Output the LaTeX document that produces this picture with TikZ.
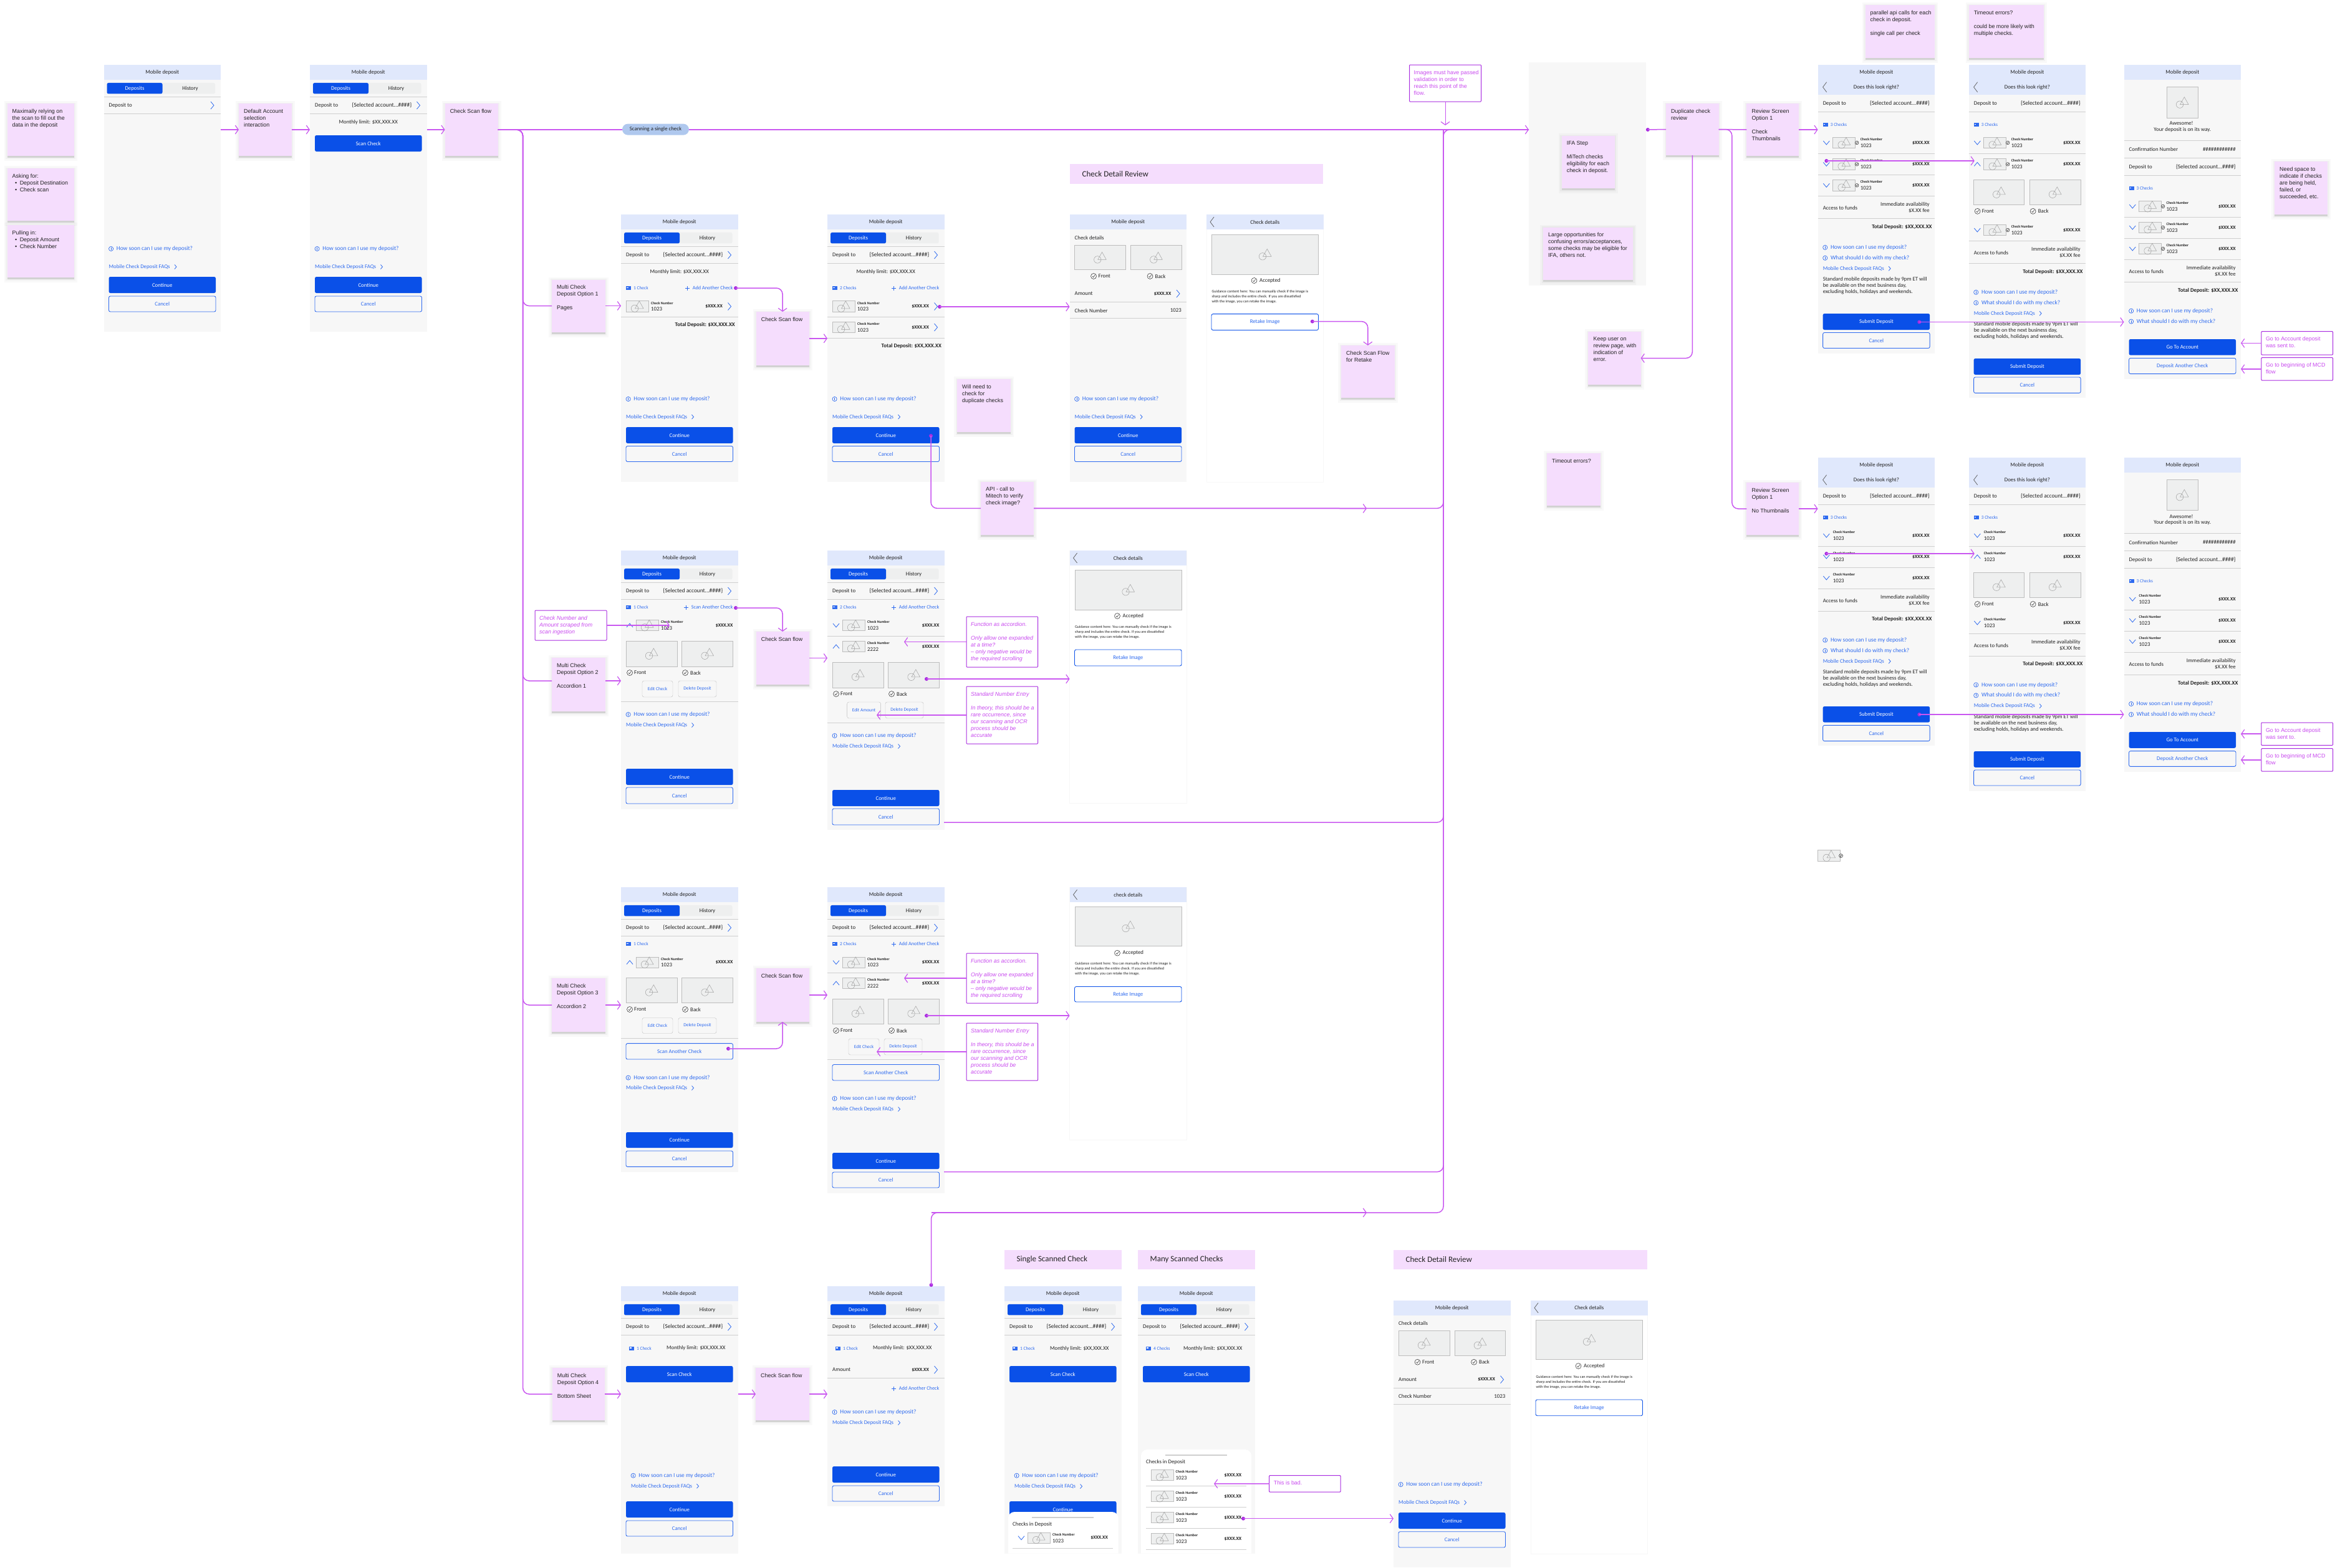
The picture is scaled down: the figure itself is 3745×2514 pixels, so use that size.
\documentclass[tikz,border=0pt]{standalone}
\usepackage{fontspec}
\usetikzlibrary{arrows.meta}
\setmainfont{Liberation Sans}
\newfontfamily\uif{Carlito}
\definecolor{pri}{HTML}{0A50E8}
\definecolor{lnk}{HTML}{2F6BEF}
\definecolor{hdr}{HTML}{E0E8FC}
\definecolor{scr}{HTML}{F7F7F7}
\definecolor{stk}{HTML}{F5DDFD}
\definecolor{stkshadow}{HTML}{D2D2D2}
\definecolor{mg}{HTML}{C957F0}
\definecolor{mgd}{HTML}{A92CE0}
\definecolor{ntx}{HTML}{C94BEF}
\definecolor{rule}{HTML}{CFCFCF}
\definecolor{imgf}{HTML}{EEEFEF}
\definecolor{imgl}{HTML}{BDBDBD}
\definecolor{iconc}{HTML}{A0A0A0}
\definecolor{ink}{HTML}{222222}
\definecolor{pillc}{HTML}{AFC8EE}
\newcommand\fui{\uif\fontsize{8.8}{10.5}\selectfont}
\newcommand\flk{\uif\fontsize{9.4}{11}\selectfont}
\newcommand\fsm{\uif\fontsize{7.4}{9}\selectfont}
\newcommand\fad{\uif\fontsize{8.2}{10}\selectfont}
\newcommand\ftiny{\uif\bfseries\fontsize{5.8}{7}\selectfont}
\newcommand\fg{\uif\fontsize{6.1}{8}\selectfont}
\newcommand\fst{\fontsize{8.9}{11}\selectfont}
\tikzset{
 x=1pt,y=-1pt,
 tl/.style={anchor=west,inner sep=0pt,font=\fui,text=ink},
 tr/.style={anchor=east,inner sep=0pt,font=\fui,text=ink},
 tc/.style={inner sep=0pt,font=\fui,text=ink},
 trb/.style={anchor=east,inner sep=0pt,font=\fui\bfseries,text=ink},
 bl/.style={anchor=west,inner sep=0pt,font=\fui,text=lnk},
 blk/.style={anchor=west,inner sep=0pt,font=\flk,text=lnk},
 blsm/.style={anchor=west,inner sep=0pt,font=\fsm,text=lnk},
 brsm/.style={anchor=east,inner sep=0pt,font=\fad,text=lnk},
 cnsm/.style={anchor=west,inner sep=0pt,font=\ftiny,text=ink},
 acct/.style={anchor=east,inner sep=0pt,font=\uif\fontsize{9.3}{11}\selectfont,text=ink},
 amt/.style={anchor=east,inner sep=0pt,font=\uif\bfseries\fontsize{7.8}{9}\selectfont,text=ink},
 gd/.style={anchor=west,inner sep=0pt,font=\fg,text=ink},
 bgbox/.style={inner sep=0pt,outer sep=0pt,fill=scr},
 whitebox/.style={inner sep=0pt,outer sep=0pt,fill=white,draw=black!3,line width=.4pt},
 pbtn/.style={inner sep=0pt,fill=pri,rounded corners=2.5pt,font=\fui,text=white},
 sbtn/.style={inner sep=0pt,fill=scr,draw=lnk,line width=.9pt,rounded corners=2.5pt,font=\fui,text=lnk},
 wbtn/.style={inner sep=0pt,fill=white,draw=pri,line width=.9pt,rounded corners=2.5pt,font=\fui,text=lnk},
 minibtn/.style={inner sep=0pt,fill=scr,draw=imgl,line width=.4pt,rounded corners=3pt,font=\fsm,text=lnk},
 tabon/.style={inner sep=0pt,fill=pri,rounded corners=2.5pt,font=\fui,text=white},
 taboff/.style={inner sep=0pt,fill=imgf,rounded corners=2.5pt,font=\fui,text=ink},
 stickybox/.style={inner sep=0pt,outer sep=0pt,fill=stk},
 stickytext/.style={anchor=north west,align=left,inner sep=0pt,font=\fst,text=ink},
 notebox/.style={inner sep=0pt,outer sep=0pt,fill=white,draw=mgd,line width=1pt,rounded corners=1pt},
 notetext/.style={anchor=north west,align=left,inner sep=0pt,font=\fst,text=ntx},
 bannerbox/.style={inner sep=0pt,outer sep=0pt,fill=stk},
 bannertext/.style={anchor=west,inner sep=0pt,font=\uif\fontsize{13}{15}\selectfont,text=ink},
 dotn/.style={circle,fill=mgd,inner sep=0pt,minimum size=6pt},
 conn/.style={draw=mg,line width=1.5pt,rounded corners=10pt},
 connthin/.style={draw=mg,line width=.9pt,rounded corners=10pt},
 arr/.style={-{Straight Barb[length=5pt,width=14pt,line width=1.2pt]}},
 rl/.style={draw=rule,line width=.9pt},
 chev/.style={draw=lnk,line width=.8pt},
 iconl/.style={draw=iconc,line width=.5pt},
}
\newcount\nc
\newcommand\T[4]{\global\advance\nc 1 \node[#1] (n\the\nc) at (#2,#3) {#4};}
\newcommand\Rl[1]{\draw[rl] (0,#1) -- (187.5,#1);}
\newcommand\ChR[2]{\draw[chev] ({#1-2.5},{#2-6}) -- ({#1+2.5},#2) -- ({#1-2.5},{#2+6});}
\newcommand\ChRs[2]{\draw[chev] ({#1-1.5},{#2-3.5}) -- ({#1+1.5},#2) -- ({#1-1.5},{#2+3.5});}
\newcommand\ChD[2]{\draw[chev] ({#1-5},{#2-3}) -- (#1,{#2+3}) -- ({#1+5},{#2-3});}
\newcommand\ChU[2]{\draw[chev] ({#1-5},{#2+3}) -- (#1,{#2-3}) -- ({#1+5},{#2+3});}
\newcommand\Back[2]{\draw[draw=black!65,line width=.7pt] ({#1+3},{#2-8}) -- ({#1-3},#2) -- ({#1+3},{#2+8});}
\newcommand\Icon[2]{\draw[iconl] ({#1-4},{#2+3.3}) circle (5.7);\draw[iconl] ({#1+3.3},{#2-8.7}) -- ({#1+10},{#2+3.3}) -- ({#1-3.5},{#2+3.3}) -- cycle;}
\newcommand\ImgBox[4]{\fill[imgf] (#1,#2) rectangle (#3,#4);\draw[imgl,line width=.8pt] (#1,#2) rectangle (#3,#4);\pgfmathsetmacro\icx{(#1+#3)/2}\pgfmathsetmacro\icy{(#2+#4)/2}\Icon{\icx}{\icy}}
\newcommand\ThumbAt[2]{\ImgBox{#1}{#2-8.7}{#1+36}{#2+8.7}}
\newcommand\Tick[3]{\draw[draw=ink,line width=.5pt] (#1,#2) circle (#3);\draw[draw=ink,line width=.5pt] ({#1-.45*#3},#2) -- ({#1-.1*#3},{#2+.4*#3}) -- ({#1+.5*#3},{#2-.5*#3});}
\newcommand\Info[2]{\draw[draw=lnk,line width=.7pt] (#1,#2) circle (3.6);\draw[draw=lnk,line width=.8pt] (#1,{#2-2}) -- (#1,{#2+2});}
\newcommand\Card[2]{\fill[lnk] (#1,{#2-3}) rectangle ({#1+8},{#2+3});\fill[white] ({#1+1},{#2-1.5}) rectangle ({#1+3.5},{#2});}
\newcommand\Bg[3]{\pgfmathsetmacro\myh{#3-#2}\pgfmathsetmacro\myc{(#3+#2)/2}\node[bgbox,minimum width=187.5pt,minimum height=\myh pt] (#1) at (93.75,\myc) {};}
\newcommand\BgW[3]{\pgfmathsetmacro\myh{#3-#2}\pgfmathsetmacro\myc{(#3+#2)/2}\node[whitebox,minimum width=187.5pt,minimum height=\myh pt] (#1) at (93.75,\myc) {};}
\newcommand\Head[2]{\fill[hdr] (0,#1) rectangle (187.5,{#1+24});\T{tc}{93.75}{#1+12}{#2}}
\newcommand\HeadBk[2]{\Head{#1}{#2}\Back{9}{#1+12}}
\newcommand\HeadTwo[1]{\fill[hdr] (0,#1) rectangle (187.5,{#1+47.5});\T{tc}{93.75}{#1+12}{Mobile deposit}\T{tc}{93.75}{#1+35.7}{Does this look right?}\Back{11}{#1+35.7}}
\newcommand\Tabs[1]{%
 \global\advance\nc 1 \node[taboff,minimum width=174pt,minimum height=17.5pt] (n\the\nc) at (91.5,{#1+37.7}) {};
 \T{tabon,minimum width=89pt,minimum height=17.5pt}{49.5}{#1+37.7}{Deposits}
 \T{tc}{138.5}{#1+37.7}{History}
 \Rl{#1+51}\T{tl}{8}{#1+65}{Deposit to}\Rl{#1+78}}
\newcommand\TabsA[1]{\Tabs{#1}\T{acct}{163.4}{#1+65}{\{Selected account...\#\#\#\#\}}\ChR{174}{#1+65}}
\newcommand\Btn[5]{\pgfmathsetmacro\myh{#3-#2}\pgfmathsetmacro\myc{(#3+#2)/2}\pgfmathsetmacro\myw{171.5}\global\advance\nc 1 \node[#1,minimum width=\myw pt,minimum height=\myh pt] (#4) at (93.75,\myc) {#5};}
\newcommand\PB[3]{\global\advance\nc 1 \Btn{pbtn}{#1}{#2}{n\the\nc}{#3}}
\newcommand\SB[3]{\global\advance\nc 1 \Btn{sbtn}{#1}{#2}{n\the\nc}{#3}}
\newcommand\WB[3]{\global\advance\nc 1 \Btn{wbtn}{#1}{#2}{n\the\nc}{#3}}
\newcommand\Mini[5]{\pgfmathsetmacro\myh{#4-#3}\pgfmathsetmacro\myw{#2-#1}\pgfmathsetmacro\myc{(#4+#3)/2}\pgfmathsetmacro\myx{(#1+#2)/2}\T{minibtn,minimum width=\myw pt,minimum height=\myh pt}{\myx}{\myc}{#5}}
\newcommand\Btns[4]{\PB{#1}{#2}{Continue}\SB{#3}{#4}{Cancel}}
\newcommand\How[3][8]{\Info{#1+3.6}{#2}\T{blk}{#1+12.2}{#2}{#3}}
\newcommand\HowSoon[2][8]{\How[#1]{#2}{How soon can I use my deposit?}}
\newcommand\FAQ[2][8]{\T{bl}{#1}{#2}{Mobile Check Deposit FAQs}\ChRs{#1+107}{#2}}
\newcommand\Checks[3][8]{\Card{#1}{#2}\T{blsm}{#1+12}{#2}{#3}}
\newcommand\AddC[2]{\T{brsm}{179.5}{#1}{#2}\draw[draw=lnk,line width=.8pt] ([xshift=-8pt,yshift=-3.5pt]n\the\nc.west) -- ([xshift=-8pt,yshift=3.5pt]n\the\nc.west) ([xshift=-11.5pt]n\the\nc.west) -- ([xshift=-4.5pt]n\the\nc.west);}
\newcommand\CN[4]{\T{cnsm}{#1}{#2-5.5}{Check Number}\T{tl}{#1}{#2+4.5}{#4}\T{amt}{#3}{#2}{\$XXX.XX}}
\newcommand\RowC[1]{\ThumbAt{8}{#1}\CN{48}{#1}{163}{1023}\ChR{174}{#1}}
\newcommand\RowDd[2]{\ChD{14}{#1}\ThumbAt{24}{#1}\CN{64}{#1}{179.5}{#2}}
\newcommand\RowDu[2]{\ChU{14}{#1}\ThumbAt{24}{#1}\CN{64}{#1}{179.5}{#2}}
\newcommand\RowJd[1]{\ChD{13.7}{#1}\ThumbAt{24}{#1}\Tick{62.5}{#1}{2.8}\CN{68}{#1}{179.3}{1023}}
\newcommand\RowJu[1]{\ChU{13.7}{#1}\ThumbAt{24}{#1}\Tick{62.5}{#1}{2.8}\CN{68}{#1}{179.3}{1023}}
\newcommand\RowKd[1]{\ChD{13.7}{#1}\CN{24}{#1}{179.3}{1023}}
\newcommand\RowKu[1]{\ChU{13.7}{#1}\CN{24}{#1}{179.3}{1023}}
\newcommand\FB[1]{\Tick{14}{#1}{4.5}\T{tl}{21}{#1}{Front}\Tick{103}{#1}{4.5}\T{tl}{111}{#1}{Back}}
\newcommand\TwoImg[2]{\ImgBox{8}{#1}{90}{#2}\ImgBox{97.5}{#1}{179.5}{#2}}
\newcommand\Accepted[1]{\Tick{76.5}{#1}{4.5}\T{tl}{85}{#1}{Accepted}}
\newcommand\Guide[3]{\T{gd}{8.4}{#1}{Guidance content here: You can manually check if the image is}\T{gd}{8.4}{#2}{sharp and includes the entire check. If you are dissatisfied}\T{gd}{8.4}{#3}{with the image, you can retake the image.}}
\newcommand\Access[3]{\T{tl}{8}{#1}{Access to funds}\T{tr}{179.3}{#2}{Immediate availability}\T{tr}{179.3}{#3}{\$X.XX fee}}
\newcommand\Std[3]{\T{tl}{8}{#1}{Standard mobile deposits made by 9pm ET will}\T{tl}{8}{#2}{be available on the next business day,}\T{tl}{8}{#3}{excluding holds, holidays and weekends.}}
\newcommand\Total[2][183]{\T{trb}{#1}{#2}{Total Deposit: \$XX,XXX.XX}}
\newcommand\Monthly[1]{\T{tc}{93.75}{#1}{Monthly limit: \$XX,XXX.XX}}
\newcommand\MonthlyL[1]{\T{tl}{73}{#1}{Monthly limit: \$XX,XXX.XX}}
\newcommand\Sticky[6]{\pgfmathsetmacro\myw{#4-#2}\pgfmathsetmacro\myh{#5-#3}\pgfmathsetmacro\myx{(#2+#4)/2}\pgfmathsetmacro\myc{(#3+#5)/2}%
 \fill[black,opacity=.025] ({#2-5},{#3-4}) rectangle ({#4+5},{#5+8});
 \fill[black,opacity=.03] ({#2-2.5},{#3-1.5}) rectangle ({#4+2.5},{#5+5});
 \fill[stkshadow] (#2,{#5-1}) rectangle (#4,{#5+3});
 \node[stickybox,minimum width=\myw pt,minimum height=\myh pt] (#1) at (\myx,\myc) {};
 \node[stickytext] (#1-t) at ({#2+8},{#3+8.5}) {#6};}
\newcommand\Note[7][]{\pgfmathsetmacro\myw{#5-#3}\pgfmathsetmacro\myh{#6-#4}\pgfmathsetmacro\myx{(#3+#5)/2}\pgfmathsetmacro\myc{(#4+#6)/2}%
 \node[notebox,minimum width=\myw pt,minimum height=\myh pt] (#2) at (\myx,\myc) {};
 \node[notetext,#1] (#2-t) at ({#3+7},{#4+8.5}) {#7};}
\newcommand\Banner[6]{\pgfmathsetmacro\myw{#4-#2}\pgfmathsetmacro\myh{#5-#3}\pgfmathsetmacro\myx{(#2+#4)/2}\pgfmathsetmacro\myc{(#3+#5)/2}%
 \node[bannerbox,minimum width=\myw pt,minimum height=\myh pt] (#1) at (\myx,\myc) {};
 \node[bannertext] (#1-t) at ({#2+19.5},\myc) {#6};}
\newcommand\Dt[3]{\node[dotn] (#1) at (#2,#3) {};}
\begin{document}
\begin{tikzpicture}
\fill[white] (0,0) rectangle (3745,2514);
\useasboundingbox (0,0) rectangle (3745,2514);

% ---- first row
\begin{scope}[shift={(166.5,0)}]
\Bg{A}{104}{531.6}\Head{104}{Mobile deposit}\Tabs{104}\ChR{174}{169}
\HowSoon{399}\FAQ{428}\Btns{444}{470}{475}{500}
\end{scope}
\begin{scope}[shift={(497,0)}]
\Bg{B}{104}{531.6}\Head{104}{Mobile deposit}\TabsA{104}\Monthly{196}
\PB{217}{243}{Scan Check}\HowSoon{399}\FAQ{428}\Btns{444}{470}{475}{500}
\end{scope}

% ---- option 1
\begin{scope}[shift={(996,0)}]
\Bg{C1}{344}{772.7}\Head{344}{Mobile deposit}\TabsA{344}\Monthly{436.5}
\Checks{462}{1 Check}\AddC{462}{Add Another Check}\RowC{491.5}\Rl{508.5}\Total{521}
\HowSoon{640}\FAQ{668.7}\Btns{685}{711}{715.5}{740.5}
\end{scope}
\begin{scope}[shift={(1327,0)}]
\Bg{C2}{344}{772.7}\Head{344}{Mobile deposit}\TabsA{344}\Monthly{436.5}
\Checks{462}{2 Checks}\AddC{462}{Add Another Check}\RowC{491.5}\Rl{508.5}\RowC{525}\Rl{542}\Total{555}
\HowSoon{640}\FAQ{668.7}\Btns{685}{711}{715.5}{740.5}
\end{scope}
\begin{scope}[shift={(1715.5,0)}]
\Bg{C3}{344}{772.7}\Head{344}{Mobile deposit}\T{tl}{8}{381}{Check details}
\ImgBox{8}{393.7}{89.5}{432.5}\ImgBox{98}{393.7}{179.5}{432.5}
\Tick{38.5}{443}{4.5}\T{tl}{46}{443}{Front}\Tick{129}{443}{4.5}\T{tl}{137}{443}{Back}
\T{tl}{8}{471}{Amount}\T{amt}{163}{471}{\$XXX.XX}\ChR{174}{471}\Rl{484}
\T{tl}{8}{498}{Check Number}\T{tr}{179.5}{498}{1023}\Rl{510.6}
\HowSoon{640}\FAQ{668.7}\Btns{685}{711}{715.5}{740.5}
\end{scope}
\begin{scope}[shift={(1935,0)}]
\BgW{C4}{344}{772.7}\HeadBk{344}{Check details}\ImgBox{8.4}{376}{179.6}{440}\Accepted{450}
\Guide{467.4}{475.4}{483.5}\WB{503.6}{529.5}{Retake Image}
\end{scope}

% ---- option 2
\begin{scope}[shift={(996,0)}]
\Bg{D1}{883}{1297.7}\Head{883}{Mobile deposit}\TabsA{883}
\Checks{974}{1 Check}\AddC{974}{Scan Another Check}\RowDu{1003}{1023}
\TwoImg{1028}{1069}\FB{1079}\Mini{34}{83}{1092}{1118}{Edit Check}\Mini{92}{153}{1092}{1118}{Delete Deposit}\Rl{1125}
\HowSoon{1146}\FAQ{1163}\Btns{1233}{1259}{1263}{1289}
\end{scope}
\begin{scope}[shift={(1327,0)}]
\Bg{D2}{883}{1331}\Head{883}{Mobile deposit}\TabsA{883}
\Checks{974}{2 Checks}\AddC{974}{Add Another Check}\RowDd{1003}{1023}\Rl{1020}\RowDu{1037}{2222}
\TwoImg{1062}{1103}\FB{1113}\Mini{31.6}{85.6}{1126}{1152}{Edit Amount}\Mini{93}{154}{1126}{1152}{Delete Deposit}\Rl{1159}
\HowSoon{1180}\FAQ{1197}\Btns{1267}{1293}{1297}{1323}
\end{scope}
\begin{scope}[shift={(1715.5,0)}]
\BgW{D3}{883}{1288}\HeadBk{883}{Check details}\ImgBox{8.4}{914}{179.6}{978}\Accepted{988}
\Guide{1006}{1014}{1022}\WB{1042}{1068}{Retake Image}
\end{scope}

% ---- option 3
\begin{scope}[shift={(996,0)}]
\Bg{F1}{1423}{1879.5}\Head{1423}{Mobile deposit}\TabsA{1423}
\Checks{1514}{1 Check}\RowDu{1543.6}{1023}
\TwoImg{1568}{1608.6}\FB{1619}\Mini{34}{83}{1632.5}{1657.5}{Edit Check}\Mini{92}{153}{1632.5}{1657.5}{Delete Deposit}\Rl{1665}
\SB{1673.6}{1699}{Scan Another Check}\HowSoon{1728.6}\FAQ{1745}\Btns{1816}{1841}{1846}{1871.4}
\end{scope}
\begin{scope}[shift={(1327,0)}]
\Bg{F2}{1423}{1913.5}\Head{1423}{Mobile deposit}\TabsA{1423}
\Checks{1514}{2 Checks}\AddC{1514}{Add Another Check}\RowDd{1543.6}{1023}\Rl{1560}\RowDu{1577}{2222}
\TwoImg{1602.5}{1642.5}\FB{1653}\Mini{34}{83}{1666}{1692}{Edit Check}\Mini{91}{152}{1666}{1692}{Delete Deposit}\Rl{1699}
\SB{1707.5}{1733}{Scan Another Check}\HowSoon{1762}\FAQ{1779}\Btns{1849}{1875}{1880}{1905}
\end{scope}
\begin{scope}[shift={(1715.5,0)}]
\BgW{F3}{1423}{1828}\HeadBk{1423}{check details}\ImgBox{8.4}{1454}{179.6}{1517.5}\Accepted{1528.6}
\Guide{1546}{1554}{1562}\WB{1582.5}{1607}{Retake Image}
\end{scope}

% ---- option 4
\begin{scope}[shift={(996,0)}]
\Bg{G1}{2063}{2491.6}\Head{2063}{Mobile deposit}\TabsA{2063}
\Checks[13]{2162.6}{1 Check}\MonthlyL{2162.6}\PB{2191}{2217}{Scan Check}
\HowSoon[16]{2366.7}\FAQ[16]{2383.7}\Btns{2408}{2434}{2439}{2464}
\end{scope}
\begin{scope}[shift={(1327,0)}]
\Bg{G2}{2063}{2416}\Head{2063}{Mobile deposit}\TabsA{2063}
\Checks[13]{2162.6}{1 Check}\MonthlyL{2162.6}
\T{tl}{8}{2197}{Amount}\T{amt}{163}{2197}{\$XXX.XX}\ChR{174}{2197}\Rl{2210.5}
\AddC{2227}{Add Another Check}\HowSoon{2265}\FAQ{2282}\Btns{2352}{2378}{2383}{2408}
\end{scope}
\begin{scope}[shift={(1611,0)}]
\Bg{H1}{2063}{2491.7}\Head{2063}{Mobile deposit}\TabsA{2063}
\Checks[13]{2162.7}{1 Check}\MonthlyL{2162.7}\PB{2191}{2217}{Scan Check}
\HowSoon[16]{2366.7}\FAQ[16]{2384}\PB{2408}{2434}{Continue}
\fill[white] (6,2491.7) {[rounded corners=10pt] -- (6,2425) -- (182.6,2425)} -- (182.6,2491.7) -- cycle;
\fill[rule] (44,2432.5) rectangle (143,2435);
\T{tl}{13}{2445}{Checks in Deposit}
\ChD{27}{2466.7}\ThumbAt{37}{2466.7}\CN{77}{2466.7}{166}{1023}
\draw[rl] (13,2483) -- (174,2483);
\end{scope}
\begin{scope}[shift={(1825,0)}]
\Bg{H2}{2063}{2491.7}\Head{2063}{Mobile deposit}\TabsA{2063}
\Checks[13]{2162.7}{4 Checks}\MonthlyL{2162.7}\PB{2191}{2217}{Scan Check}
\fill[white] (5,2491.7) {[rounded corners=10pt] -- (5,2325) -- (182,2325)} -- (182,2491.7) -- cycle;
\fill[rule] (44,2332.5) rectangle (142.6,2335);
\T{tl}{13}{2345}{Checks in Deposit}
\ThumbAt{21}{2366}\CN{60.5}{2366}{166.4}{1023}\draw[rl] (13,2383) -- (174,2383);
\ThumbAt{21}{2400}\CN{60.5}{2400}{166.4}{1023}\draw[rl] (13,2417) -- (174,2417);
\ThumbAt{21}{2434}\CN{60.5}{2434}{166.4}{1023}\draw[rl] (13,2451) -- (174,2451);
\ThumbAt{21}{2468}\CN{60.5}{2468}{166.4}{1023}\draw[rl] (13,2485) -- (174,2485);
\end{scope}
\begin{scope}[shift={(2235,0)}]
\Bg{I1}{2085.7}{2513.7}\Head{2085.7}{Mobile deposit}\T{tl}{8}{2122.7}{Check details}
\ImgBox{8}{2134.3}{90}{2174.7}\ImgBox{98}{2134.3}{179.7}{2174.7}
\Tick{38.5}{2184.7}{4.5}\T{tl}{46}{2184.7}{Front}\Tick{129}{2184.7}{4.5}\T{tl}{137}{2184.7}{Back}
\T{tl}{8}{2212.7}{Amount}\T{amt}{163}{2212.7}{\$XXX.XX}\ChR{174}{2212.7}\Rl{2226}
\T{tl}{8}{2239.7}{Check Number}\T{tr}{179.5}{2239.7}{1023}\Rl{2252}
\HowSoon{2381}\FAQ{2410}\Btns{2426}{2452}{2456.7}{2482}
\end{scope}
\begin{scope}[shift={(2455,0)}]
\BgW{I2}{2085.7}{2491.7}\HeadBk{2085.7}{Check details}\ImgBox{8.4}{2117}{179.6}{2180.7}\Accepted{2191}
\Guide{2209}{2217}{2225}\WB{2245}{2270.7}{Retake Image}
\end{scope}

% ---- IFA column
\begin{scope}[shift={(2452,0)}]
\Bg{IFA}{100}{457.6}
\end{scope}

% ---- review screens with thumbnails
\begin{scope}[shift={(2915.6,0)}]
\Bg{J1}{104}{566.5}\HeadTwo{104}\T{tl}{8}{166}{Deposit to}\T{acct}{179.3}{166}{\{Selected account...\#\#\#\#\}}\Rl{179.5}
\Checks{200.4}{3 Checks}\RowJd{229}\Rl{246.4}\RowJd{263.4}\Rl{280.4}\RowJd{297.3}\Rl{314.3}
\Access{333.5}{328}{338}\Rl{350.4}\Total{363.8}
\HowSoon{396.9}\How{413.8}{What should I do with my check?}\FAQ{430.8}\Std{448}{458.5}{468.3}
\PB{503}{529}{Submit Deposit}\SB{533.5}{558.5}{Cancel}
\end{scope}
\begin{scope}[shift={(3157.6,0)}]
\Bg{J2}{104}{638.4}\HeadTwo{104}\T{tl}{8}{166}{Deposit to}\T{acct}{179.3}{166}{\{Selected account...\#\#\#\#\}}\Rl{179.5}
\Checks{200.4}{3 Checks}\RowJd{229}\Rl{246.4}\RowJu{263.4}
\ImgBox{8}{288.4}{89}{328.6}\ImgBox{97.5}{288.4}{179.3}{328.6}\Tick{14}{338.8}{4.5}\T{tl}{21}{338.8}{Front}\Tick{103}{338.8}{4.5}\T{tl}{111}{338.8}{Back}
\RowJd{369}\Rl{386.6}\Access{405}{400}{410}\Rl{422.3}\Total{435.7}
\HowSoon{468.8}\How{485.7}{What should I do with my check?}\FAQ{502.7}\Std{520}{530.4}{540}
\PB{575}{601}{Submit Deposit}\SB{605}{630.4}{Cancel}
\end{scope}
\begin{scope}[shift={(3406.5,0)}]
\Bg{J3}{104}{607.6}\Head{104}{Mobile deposit}\ImgBox{68.5}{139}{118.5}{189.7}
\T{tc}{92}{198}{Awesome!}\T{tc}{93.75}{208.5}{Your deposit is on its way.}\Rl{225.4}
\T{tl}{8}{239.7}{Confirmation Number}\T{tr}{179.3}{239.7}{\#\#\#\#\#\#\#\#\#\#\#\#}\Rl{253.6}
\T{tl}{8}{267.9}{Deposit to}\T{acct}{179.3}{267.9}{\{Selected account...\#\#\#\#\}}\Rl{281.7}
\Checks{302}{3 Checks}\RowJd{331}\Rl{348.6}\RowJd{365}\Rl{382.6}\RowJd{399}\Rl{416.5}
\Access{435}{430}{440}\Rl{452}\Total{465.6}
\HowSoon{498.7}\How{515.6}{What should I do with my check?}
\PB{544}{569.6}{Go To Account}\SB{574.5}{599.6}{Deposit Another Check}
\end{scope}

% ---- review screens without thumbnails
\begin{scope}[shift={(2915.6,0)}]
\Bg{K1}{734}{1196.4}\HeadTwo{734}\T{tl}{8}{796}{Deposit to}\T{acct}{179.3}{796}{\{Selected account...\#\#\#\#\}}\Rl{809.6}
\Checks{830}{3 Checks}\RowKd{859}\Rl{876.5}\RowKd{893}\Rl{910.4}\RowKd{927}\Rl{944.3}
\Access{963}{958}{968}\Rl{980.7}\Total{993}
\HowSoon{1026.7}\How{1043.7}{What should I do with my check?}\FAQ{1060.7}\Std{1078.6}{1088.3}{1098.5}
\PB{1133}{1158.6}{Submit Deposit}\SB{1163.4}{1188.6}{Cancel}
\end{scope}
\begin{scope}[shift={(3157.6,0)}]
\Bg{K2}{734}{1268.6}\HeadTwo{734}\T{tl}{8}{796}{Deposit to}\T{acct}{179.3}{796}{\{Selected account...\#\#\#\#\}}\Rl{809.6}
\Checks{830}{3 Checks}\RowKd{859}\Rl{876.5}\RowKu{893}
\ImgBox{8}{918.6}{89}{958.4}\ImgBox{97.5}{918.6}{179.3}{958.4}\Tick{14}{969}{4.5}\T{tl}{21}{969}{Front}\Tick{103}{969}{4.5}\T{tl}{111}{969}{Back}
\RowKd{999}\Rl{1016.5}\Access{1035}{1030}{1040}\Rl{1052.4}\Total{1065.5}
\HowSoon{1098.5}\How{1115.4}{What should I do with my check?}\FAQ{1132.4}\Std{1150.3}{1160}{1170}
\PB{1205}{1230.8}{Submit Deposit}\SB{1235}{1260}{Cancel}
\end{scope}
\begin{scope}[shift={(3406.5,0)}]
\Bg{K3}{734}{1237.6}\Head{734}{Mobile deposit}\ImgBox{68.5}{769}{118.5}{818.8}
\T{tc}{92}{828.5}{Awesome!}\T{tc}{93.75}{838.6}{Your deposit is on its way.}\Rl{855.6}
\T{tl}{8}{870}{Confirmation Number}\T{tr}{179.3}{870}{\#\#\#\#\#\#\#\#\#\#\#\#}\Rl{883.7}
\T{tl}{8}{897.8}{Deposit to}\T{acct}{179.3}{897.8}{\{Selected account...\#\#\#\#\}}\Rl{911.4}
\Checks{932}{3 Checks}\RowKd{961}\Rl{978.7}\RowKd{995}\Rl{1012.7}\RowKd{1029}\Rl{1046.6}
\Access{1065}{1060}{1070}\Rl{1082.5}\Total{1095.6}
\HowSoon{1129}\How{1146}{What should I do with my check?}
\PB{1174}{1199.8}{Go To Account}\SB{1204.6}{1229.4}{Deposit Another Check}
\end{scope}

% orphan thumbnail
\ImgBox{2915.6}{1363.6}{2951.6}{1381.6}\Tick{2952.5}{1372.6}{3}

% ---- banners
\Banner{bTop}{1716}{263}{2122}{295}{Check Detail Review}
\Banner{bSingle}{1611}{2004.7}{1798.5}{2036}{Single Scanned Check}
\Banner{bMany}{1825}{2004.7}{2012.5}{2036}{Many Scanned Checks}
\Banner{bDetail}{2235}{2004.7}{2641.7}{2036}{Check Detail Review}

% ---- stickers
\Sticky{sMax}{11.5}{166}{118.6}{250}{Maximally relying on\\the scan to fill out the\\data in the deposit}
\Sticky{sAsk}{11.5}{270}{118.6}{354}{Asking for:\\\hspace*{4.5pt}•\hspace*{4.5pt}Deposit Destination\\\hspace*{4.5pt}•\hspace*{4.5pt}Check scan}
\Sticky{sPull}{11.5}{361}{118.6}{445}{Pulling in:\\\hspace*{4.5pt}•\hspace*{4.5pt}Deposit Amount\\\hspace*{4.5pt}•\hspace*{4.5pt}Check Number}
\Sticky{sDef}{383}{166}{467.5}{250}{Default Account\\selection\\interaction}
\Sticky{sScan}{713.6}{166}{798.5}{250}{Check Scan flow}
\Sticky{sM1}{885}{448.6}{970.7}{532.5}{Multi Check\\Deposit Option 1\\[11pt]Pages}
\Sticky{sCS1}{1212.7}{500}{1297.5}{585.6}{Check Scan flow}
\Sticky{sWill}{1535}{608}{1621}{693}{Will need to\\check for\\duplicate checks}
\Sticky{sAPI}{1573}{772.7}{1658}{858}{API - call to\\Mitech to verify\\check image?}
\Sticky{sRet}{2151}{554}{2236.6}{638.4}{Check Scan Flow\\for Retake}
\Sticky{sM2}{885}{1055}{971}{1141}{Multi Check\\Deposit Option 2\\[11pt]Accordion 1}
\Sticky{sCS2}{1212.7}{1013}{1297.5}{1098}{Check Scan flow}
\Sticky{sM3}{885}{1569}{971}{1655}{Multi Check\\Deposit Option 3\\[11pt]Accordion 2}
\Sticky{sCS3}{1212.7}{1553}{1297.5}{1639}{Check Scan flow}
\Sticky{sM4}{885.7}{2194}{970}{2278}{Multi Check\\Deposit Option 4\\[11pt]Bottom Sheet}
\Sticky{sCS4}{1212}{2194}{1297.5}{2278}{Check Scan flow}
\Sticky{sIFA}{2504.6}{218}{2589.5}{302}{IFA Step\\[11pt]MiTech checks\\eligibility for each\\check in deposit.}
\Sticky{sLarge}{2475}{364.7}{2619}{449}{Large opportunities for\\confusing errors/acceptances,\\some checks may be eligible for\\IFA, others not.}
\Sticky{sDup}{2672}{166}{2756.5}{249}{Duplicate check\\review}
\Sticky{sKeep}{2547.4}{532}{2631.6}{617}{Keep user on\\review page, with\\indication of\\error.}
\Sticky{sTime}{2481}{727}{2566.6}{810.7}{Timeout errors?}
\Sticky{sRev1}{2801.4}{166}{2885.4}{250}{Review Screen\\Option 1\\[11pt]Check\\Thumbnails}
\Sticky{sRev2}{2801.4}{774}{2885.4}{858}{Review Screen\\Option 1\\[11pt]No Thumbnails}
\Sticky{sPar}{2991.5}{8}{3103.4}{93}{parallel api calls for each\\check in deposit.\\[11pt]single call per check}
\Sticky{sTop}{3157.6}{8}{3277.5}{93}{Timeout errors?\\[11pt]could be more likely with\\multiple checks.}
\Sticky{sNeed}{3648}{259}{3733}{343.7}{Need space to\\indicate if checks\\are being held,\\failed, or\\succeeded, etc.}

% ---- notes
\Note{nImg}{2260.5}{104}{2375.5}{163}{Images must have passed\\validation in order to\\reach this point of the\\flow.}
\Note[font=\fst\itshape]{nNum}{858}{979}{973}{1027}{Check Number and\\Amount scraped from\\scan ingestion}
\Note[font=\fst\itshape]{nFn2}{1550}{989}{1664.5}{1070}{Function as accordion.\\[11pt]Only allow one expanded\\at a time?\\-- only negative would be\\the required scrolling}
\Note[font=\fst\itshape]{nStd2}{1550}{1101}{1664.5}{1193}{Standard Number Entry\\[11pt]In theory, this should be a\\rare occurrence, since\\our scanning and OCR\\process should be\\accurate}
\Note[font=\fst\itshape]{nFn3}{1550}{1529}{1664.5}{1609}{Function as accordion.\\[11pt]Only allow one expanded\\at a time?\\-- only negative would be\\the required scrolling}
\Note[font=\fst\itshape]{nStd3}{1550}{1641}{1664.5}{1733}{Standard Number Entry\\[11pt]In theory, this should be a\\rare occurrence, since\\our scanning and OCR\\process should be\\accurate}
\Note{nBad}{2035.6}{2366.7}{2150}{2393}{This is bad.}
\Note{nGo1}{3626.8}{531.7}{3741.5}{569}{Go to Account deposit\\was sent to.}
\Note{nBeg1}{3626.8}{573.7}{3741.5}{610}{Go to beginning of MCD\\flow}
\Note{nGo2}{3626.8}{1159}{3741.5}{1195.4}{Go to Account deposit\\was sent to.}
\Note{nBeg2}{3626.8}{1200.7}{3741.5}{1237}{Go to beginning of MCD\\flow}

% ---- dots and free ends
\Dt{dC1}{1180}{462}\Dt{dC2}{1507}{492}\Dt{dC2b}{1493}{699}\Dt{dC4}{2104.8}{515.6}
\Dt{dD1}{1180}{975}\Dt{dD2}{1486}{1089}\Dt{dF1}{1168}{1682}\Dt{dF2}{1486}{1629}
\Dt{dG2}{1493.5}{2061}\Dt{dH2}{1994}{2435.7}\Dt{dIFA}{2642.8}{208}
\Dt{dJ1}{2929.3}{258}\Dt{dJ1b}{3078.3}{516.5}\Dt{dK1}{2929.3}{888}\Dt{dK1b}{3078.3}{1146}
\coordinate (T1) at (838.6,0);
\coordinate (T2) at (2315,0);
\coordinate (T3) at (2777.8,0);
\coordinate (mainR) at (2452,208);
\coordinate (tImg) at (2318,201);
\coordinate (pM2) at (885,1092);
\coordinate (pM2e) at (971,1092);
\coordinate (mA) at (2192,815.5);
\coordinate (r2) at (1514,1319);
\coordinate (r3) at (1514,1879.6);
\coordinate (r4) at (1493.5,1945);
\coordinate (mB) at (2192,1945);
\coordinate (tNum) at (1074,1003);
\coordinate (tFn2) at (1450,1029.5);
\coordinate (tStd2) at (1406,1147);
\coordinate (tFn3) at (1450,1569);
\coordinate (tStd3) at (1406,1687);
\coordinate (tBad) at (1947,2379.85);
\coordinate (tJ2) at (3166.8,258);
\coordinate (tK2) at (3166.8,888);

% ---- connectors
\draw[conn,arr] (A.east |- sDef.west) -- (sDef.west);
\draw[conn,arr] (sDef.east) -- (B.west |- sDef.east);
\draw[conn,arr] (B.east |- sScan.west) -- (sScan.west);
\draw[conn,arr] (sScan.east) -- (mainR);
\draw[conn] (sScan.east) -- (T1 |- sScan.east) -- (T1 |- sM1.west) -- (sM1.west);
\draw[conn] (sScan.east) -- (T1 |- sScan.east) -- (T1 |- pM2) -- (pM2);
\draw[conn] (sScan.east) -- (T1 |- sScan.east) -- (T1 |- sM3.west) -- (sM3.west);
\draw[conn] (sScan.east) -- (T1 |- sScan.east) -- (T1 |- sM4.west) -- (sM4.west);
\draw[conn,arr] (sM1.east) -- (C1.west |- sM1.east);
\draw[conn,arr] (pM2e) -- (D1.west |- pM2e);
\draw[conn,arr] (sM3.east) -- (F1.west |- sM3.east);
\draw[conn,arr] (sM4.east) -- (G1.west |- sM4.east);
\draw[conn,arr] (dC1.center) -| (sCS1.north);
\draw[conn,arr] (sCS1.east) -- (C2.west |- sCS1.east);
\draw[conn,arr] (dC2.center) -- (C3.west |- dC2.center);
\draw[conn] (dC2b.center) |- (sAPI.west);
\draw[conn] (sAPI.east) -- (T2 |- sAPI.east) -- (T2 |- mainR) -- (mainR);
\draw[conn,arr] (sAPI.east) -- (mA);
\draw[conn,arr] (dC4.center) -| (sRet.north);
\draw[conn,arr] (dD1.center) -| (sCS2.north);
\draw[conn,arr] (sCS2.east) -- (D2.west |- sCS2.east);
\draw[conn,arr] (dD2.center) -- (D3.west |- dD2.center);
\draw[conn] (r2) -- (T2 |- r2) -- (T2 |- mainR);
\draw[conn,arr] (dF1.center) -| (sCS3.south);
\draw[conn,arr] (sCS3.east) -- (F2.west |- sCS3.east);
\draw[conn,arr] (dF2.center) -- (F3.west |- dF2.center);
\draw[conn] (r3) -- (T2 |- r3) -- (T2 |- mainR);
\draw[conn] (dG2.center) -- (r4) -- (T2 |- r4) -- (T2 |- mainR);
\draw[conn,arr] (r4) -- (mB);
\draw[conn,arr] (G1.east |- sCS4.west) -- (sCS4.west);
\draw[conn,arr] (sCS4.east) -- (G2.west |- sCS4.east);
\draw[conn,arr] (dH2.center) -- (I1.west |- dH2.center);
\draw[conn,arr] (nBad.west) -- (tBad);
\draw[conn,arr] (nNum.east) -- (tNum);
\draw[conn,arr] (nFn2.west) -- (tFn2);
\draw[conn,arr] (nStd2.west) -- (tStd2);
\draw[conn,arr] (nFn3.west) -- (tFn3);
\draw[conn,arr] (nStd3.west) -- (tStd3);
\draw[connthin,arr] (nImg.south) -- (tImg);
\draw[conn] (dIFA.center) -- (sDup.west);
\draw[conn] (sDup.east) -- (sRev1.west);
\draw[conn] (sDup.east) -- (T3 |- sDup.east) -- (T3 |- sRev2.west) -- (sRev2.west);
\draw[conn,arr] (sDup.south) |- (sKeep.east);
\draw[conn,arr] (sRev1.east) -- (J1.west |- sRev1.east);
\draw[conn,arr] (sRev2.east) -- (K1.west |- sRev2.east);
\draw[conn,arr] (dJ1.center) -- (tJ2);
\draw[conn,arr] (dK1.center) -- (tK2);
\draw[conn,arr] (dJ1b.center) -- (J3.west |- dJ1b.center);
\draw[conn,arr] (dK1b.center) -- (K3.west |- dK1b.center);
\draw[conn,arr] (nGo1.west) -- (J3.east |- nGo1.west);
\draw[conn,arr] (nBeg1.west) -- (J3.east |- nBeg1.west);
\draw[conn,arr] (nGo2.west) -- (K3.east |- nGo2.west);
\draw[conn,arr] (nBeg2.west) -- (K3.east |- nBeg2.west);

% ---- pill
\node[fill=pillc,rounded corners=9pt,inner sep=0pt,minimum width=107pt,minimum height=18pt,font=\fui,text=ink] (pill) at (1051.5,207.6) {Scanning a single check};
\end{tikzpicture}
\end{document}
